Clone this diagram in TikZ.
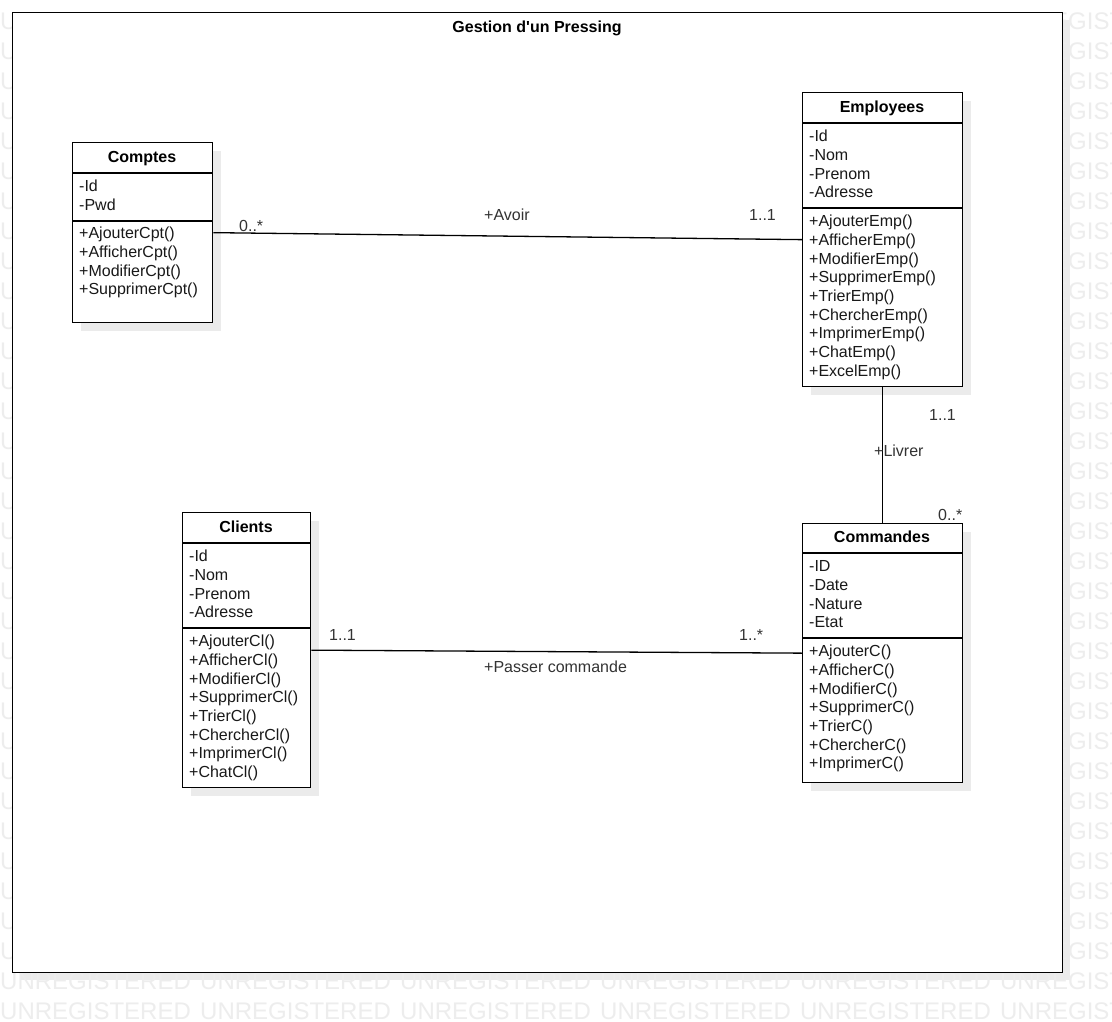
\documentclass[tikz,border=0pt]{standalone}
\usepackage{fontspec}
\setmainfont{Liberation Sans}[Ligatures={NoCommon,TeXOff}]
\newcommand\wmword{\makebox[200pt][l]{UNREGISTERED}}
\newcommand\wmrow{\wmword\wmword\wmword\wmword\wmword\wmword}
\tikzset{
  classbox/.style={draw=black, line width=1.3pt, fill=white, inner sep=0pt, anchor=north west},
  shadowc/.style={fill=black!8, draw=none},
  cname/.style={font=\fontsize{16}{19}\selectfont\bfseries, inner sep=0pt, anchor=base, text height=11.5pt, text depth=3.4pt},
  member/.style={font=\fontsize{16}{19}\selectfont, inner sep=0pt, anchor=base west, text=black!90, text height=11.5pt, text depth=3.4pt},
  lbl/.style={font=\fontsize{16}{19}\selectfont, inner sep=0pt, anchor=base west, text=black!80, text height=11.5pt, text depth=3.4pt},
  conn/.style={line width=1.3pt, draw=black},
  sepline/.style={line width=1.3pt, draw=black},
  wm/.style={font=\fontsize{24}{28}\selectfont, text=black!7, inner sep=0pt, anchor=base west},
}
\newcommand\umlbox[5]{%
  \fill[shadowc] (#2+9,#3+9) rectangle ++(#4,#5);
  \node[classbox, minimum width=#4, minimum height=#5] (#1) at (#2,#3) {};}
\newcommand\members[4]{%
  \foreach \t [count=\i] in {#4} {\node[member] (#1\i) at (#2, {#3+(\i-1)*18.7}) {\t};}}
\newcommand\hsep[2]{\draw[sepline] ([yshift=-#2]#1.north west) -- ([yshift=-#2]#1.north east);}
\begin{document}
\begin{tikzpicture}[x=1pt,y=-1pt]
\useasboundingbox (0,0) rectangle (1112,1022);
\fill[white] (0,0) rectangle (1112,1022);
% frame shadow
\fill[shadowc] (20,20) rectangle (1070,980);
% watermark (only the parts not hidden by the frame)
\foreach \r in {0,...,31} {%
  \node[wm] (wmL\r) at (0, {29.6+30*\r}) {U};
  \node[wm] (wmR\r) at (1000, {29.6+30*\r}) {UNREGISTERED};}
\foreach \r in {32,33} {\node[wm] (wm\r) at (0, {29.6+30*\r}) {\wmrow};}
% frame
\node[classbox, minimum width=1050, minimum height=960] (frame) at (12,12) {};
\node[cname] (title) at (537, 32.5) {Gestion d'un Pressing};

% Comptes
\umlbox{comptes}{72}{142}{140}{180}
\node[cname] (comptesT) at (142, 162.7) {Comptes};
\hsep{comptes}{31}
\hsep{comptes}{79}
\members{compA}{79}{191.7}{-Id,-Pwd}
\members{compM}{79}{238.7}{+AjouterCpt(),+AfficherCpt(),+ModifierCpt(),+SupprimerCpt()}

% Employees
\umlbox{employees}{802}{92}{160}{294}
\node[cname] (employeesT) at (882, 112.7) {Employees};
\hsep{employees}{31}
\hsep{employees}{116}
\members{empA}{809}{141.7}{-Id,-Nom,-Prenom,-Adresse}
\members{empM}{809}{226.7}{+AjouterEmp(),+AfficherEmp(),+ModifierEmp(),+SupprimerEmp(),+TrierEmp(),+ChercherEmp(),+ImprimerEmp(),+ChatEmp(),+ExcelEmp()}

% Commandes
\umlbox{commandes}{802}{523}{160}{259}
\node[cname] (commandesT) at (882, 542.7) {Commandes};
\hsep{commandes}{30}
\hsep{commandes}{115}
\members{cmdA}{809}{571.7}{-ID,-Date,-Nature,-Etat}
\members{cmdM}{809}{656.7}{+AjouterC(),+AfficherC(),+ModifierC(),+SupprimerC(),+TrierC(),+ChercherC(),+ImprimerC()}

% Clients
\umlbox{clients}{182}{512}{128}{275}
\node[cname] (clientsT) at (246, 532.7) {Clients};
\hsep{clients}{31}
\hsep{clients}{116}
\members{cliA}{189}{561.7}{-Id,-Nom,-Prenom,-Adresse}
\members{cliM}{189}{646.7}{+AjouterCl(),+AfficherCl(),+ModifierCl(),+SupprimerCl(),+TrierCl(),+ChercherCl(),+ImprimerCl(),+ChatCl()}

% connectors
\draw[conn] (comptes.east) -- (employees.west);
\draw[conn] (employees.south) -- (commandes.north);
\draw[conn] (clients.east) -- (commandes.west);

% labels
\node[lbl] (l1) at (239, 231.7) {0..*};
\node[lbl] (l2) at (484, 220.7) {+Avoir};
\node[lbl] (l3) at (749, 220.7) {1..1};
\node[lbl] (l4) at (929, 420.7) {1..1};
\node[lbl] (l5) at (874, 456.7) {+Livrer};
\node[lbl] (l6) at (938, 520.7) {0..*};
\node[lbl] (l7) at (329, 640.7) {1..1};
\node[lbl] (l8) at (739, 640.7) {1..*};
\node[lbl] (l9) at (484, 672.7) {+Passer commande};
\end{tikzpicture}
\end{document}
